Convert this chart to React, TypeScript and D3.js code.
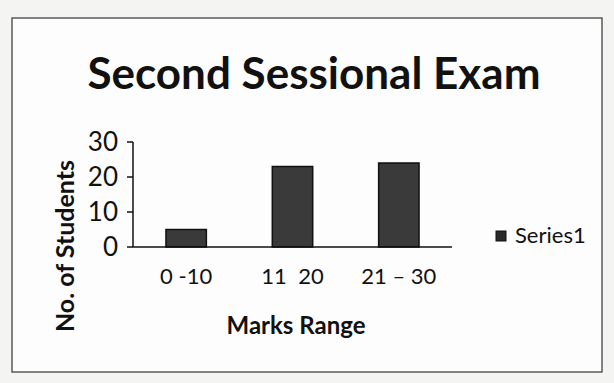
import React from "react";
import * as d3 from "d3";

const categories = ["0 -10", "11  20", "21 – 30"];
const values = [5, 23, 24];
const yTicks = [0, 10, 20, 30];
const seriesName = "Series1";

export default function App() {
  const W = 614, H = 383;
  const x = d3.scaleBand<string>().domain(categories).range([133, 452]).paddingInner(0.62).paddingOuter(0.31);
  const y = d3.scaleLinear().domain([0, 30]).range([247, 142]);
  const font = "Lato, 'Open Sans', sans-serif";
  return (
    <svg width={W} height={H} style={{ position: "absolute", left: 0, top: 0 }}>
      <rect x={0} y={0} width={W} height={H} fill="#f4f4f2" />
      <rect x={12} y={18} width={590} height={354} fill="#fdfdfd" stroke="#333" strokeWidth={1.2} />
      <text x={314} y={89} textAnchor="middle" fontFamily={font} fontWeight={700} fontSize={44} fill="#111">
        Second Sessional Exam
      </text>
      {/* y axis */}
      <line x1={133} x2={133} y1={y(30)} y2={y(0)} stroke="#111" strokeWidth={1.5} />
      {yTicks.map((t) => (
        <g key={t}>
          <line x1={127} x2={133} y1={y(t)} y2={y(t)} stroke="#111" strokeWidth={1.5} />
          <text x={118} y={y(t) + 9} textAnchor="end" fontFamily={font} fontSize={26} fill="#111">
            {t}
          </text>
        </g>
      ))}
      {values.map((v, i) => (
        <rect
          key={i}
          x={x(categories[i])}
          y={y(v)}
          width={x.bandwidth()}
          height={y(0) - y(v)}
          fill="#3a3a3a"
          stroke="#111"
          strokeWidth={1.5}
        />
      ))}
      <line x1={133} x2={452} y1={y(0)} y2={y(0)} stroke="#111" strokeWidth={1.5} />
      {categories.map((c) => (
        <text key={c} x={(x(c) as number) + x.bandwidth() / 2} y={284} textAnchor="middle" fontFamily={font} fontSize={22} fill="#111" style={{ whiteSpace: "pre" }}>
          {c}
        </text>
      ))}
      <text x={296} y={334} textAnchor="middle" fontFamily={font} fontWeight={700} fontSize={24} fill="#111">
        Marks Range
      </text>
      <text transform="translate(74,246) rotate(-90)" textAnchor="middle" fontFamily={font} fontWeight={700} fontSize={25} fill="#111">
        No. of Students
      </text>
      <rect x={496} y={231} width={10} height={10} fill="#2a2a2a" stroke="#111" />
      <text x={515} y={243} fontFamily={font} fontSize={22} fill="#111">
        {seriesName}
      </text>
    </svg>
  );
}
